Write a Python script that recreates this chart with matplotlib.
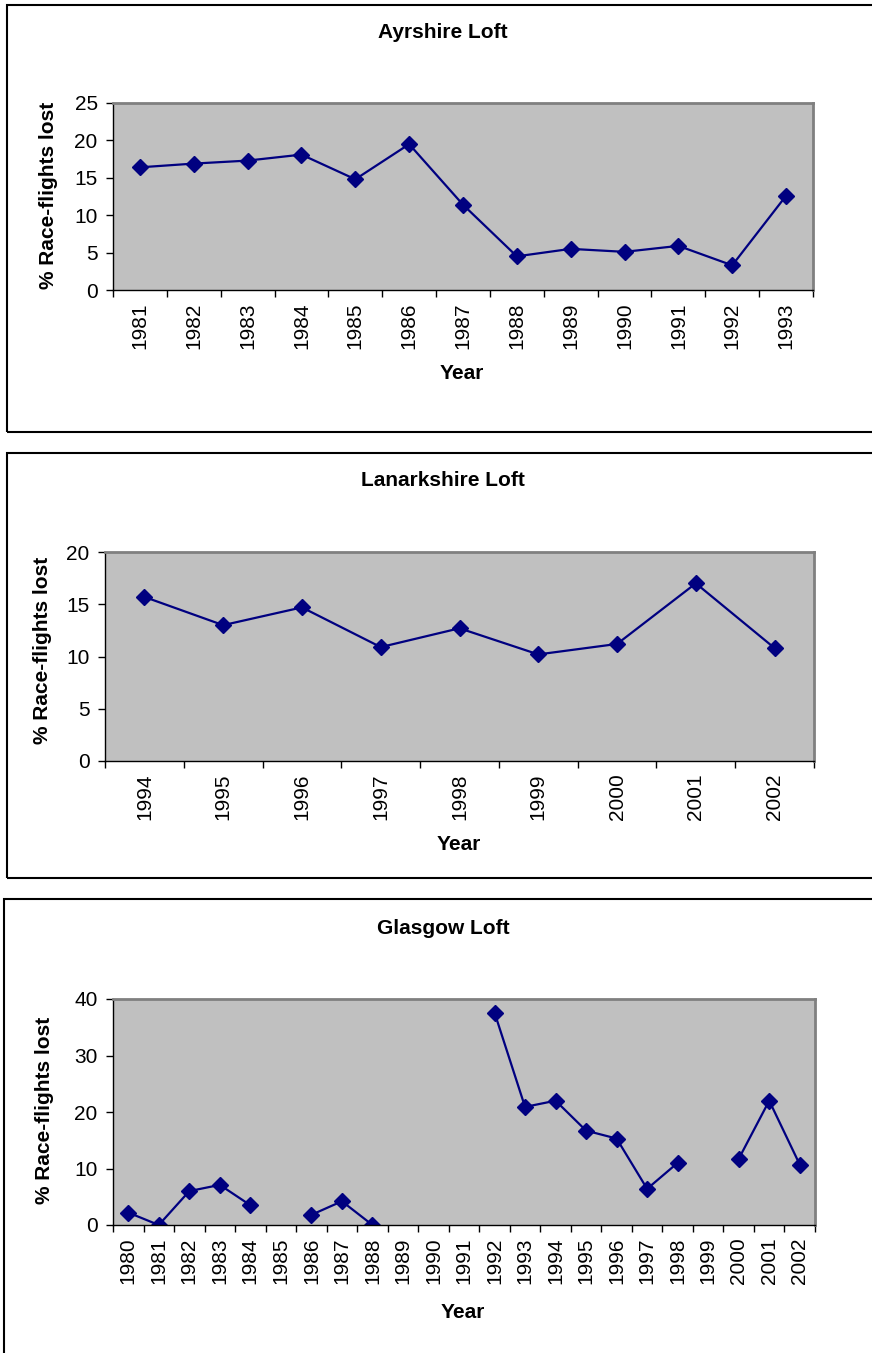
import numpy as np
import matplotlib.pyplot as plt
from matplotlib.patches import Rectangle

plt.rcParams['font.family'] = ['Liberation Sans', 'DejaVu Sans']

# Ayrshire loft
ayr_years = [str(y) for y in range(1981, 1994)]
ayr_lost = [16.4, 16.9, 17.3, 18.1, 14.8, 19.5, 11.4, 4.5, 5.5, 5.1, 5.9, 3.3, 12.6]

# Lanarkshire loft
lan_years = [str(y) for y in range(1994, 2003)]
lan_lost = [15.7, 13.0, 14.7, 10.9, 12.7, 10.2, 11.2, 17.0, 10.8]

# Glasgow loft (nan = no data)
gla_years = [str(y) for y in range(1980, 2003)]
gla_lost = [2.2, 0.0, 6.0, 7.1, 3.5, np.nan, 1.8, 4.2, 0.0, np.nan, np.nan, np.nan,
            37.6, 20.9, 22.0, 16.7, 15.3, 6.4, 11.0, np.nan, 11.7, 22.0, 10.7]

W, H = 872, 1353
fig = plt.figure(figsize=(W / 100, H / 100), dpi=100)


def px(x0, y0, x1, y1):
    return [x0 / W, 1 - y1 / H, (x1 - x0) / W, (y1 - y0) / H]


def panel(box, axbox, title, ty, years, vals, ymax, ystep, ylab_xy, year_xy):
    # outer chart border
    bx0, by0, bx1, by1 = box
    fig.patches.append(Rectangle((bx0 / W, 1 - by1 / H), (bx1 - bx0) / W, (by1 - by0) / H,
                                 transform=fig.transFigure, fill=False,
                                 edgecolor='black', linewidth=1.5))
    ax = fig.add_axes(px(*axbox))
    ax.set_facecolor('#C0C0C0')
    n = len(years)
    x = np.arange(n)
    ax.plot(x, vals, color='#000080', linewidth=1.6, marker='D', markersize=8.5,
            markerfacecolor='#000080', markeredgecolor='#000080')
    ax.set_xlim(-0.5, n - 0.5)
    ax.set_ylim(0, ymax)
    ax.set_yticks(np.arange(0, ymax + 1, ystep))
    ax.set_xticks(np.arange(-0.5, n, 1.0))
    ax.set_xticklabels([])
    ax.set_xticks(x, minor=True)
    ax.set_xticklabels(years, minor=True, rotation=90)
    ax.tick_params(axis='x', which='minor', length=0, pad=9, labelsize=15)
    ax.tick_params(axis='x', which='major', length=5, width=1, direction='out')
    ax.tick_params(axis='y', length=5, width=1, labelsize=15, pad=6)
    for s in ['top', 'right']:
        ax.spines[s].set_color('#808080')
        ax.spines[s].set_linewidth(2)
    for s in ['left', 'bottom']:
        ax.spines[s].set_color('black')
        ax.spines[s].set_linewidth(1)
    fig.text(443 / W, 1 - ty / H, title, ha='center', va='center',
             fontsize=15, fontweight='bold')
    fig.text(ylab_xy[0] / W, 1 - ylab_xy[1] / H, '% Race-flights lost', rotation=90,
             ha='center', va='center', fontsize=15, fontweight='bold')
    fig.text(year_xy[0] / W, 1 - year_xy[1] / H, 'Year', ha='center', va='center',
             fontsize=15, fontweight='bold')
    return ax


panel((7, 5, 900, 432), (113, 103, 813, 290), 'Ayrshire Loft', 32,
      ayr_years, ayr_lost, 25, 5, (48, 195), (462, 374))
panel((7, 453, 900, 878), (105, 552, 814, 761), 'Lanarkshire Loft', 480,
      lan_years, lan_lost, 20, 5, (43, 650), (459, 845))
panel((4, 899, 900, 1400), (113, 999, 815, 1225), 'Glasgow Loft', 928,
      gla_years, gla_lost, 40, 10, (45, 1110), (463, 1312))

fig.savefig('out.png', dpi=100)
